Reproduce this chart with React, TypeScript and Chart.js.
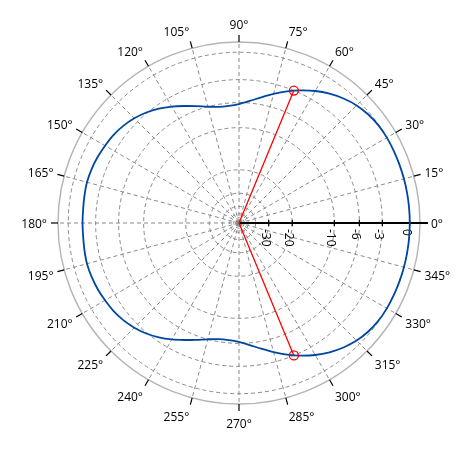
import { useEffect, useRef } from 'react';
import { Chart, registerables } from 'chart.js';

Chart.register(...registerables);

// Azimuth categories in degrees (0° at right, counter-clockwise), every 2.5°, listed clockwise
const ANGLE_STEP = 2.5;
const ANGLES: number[] = Array.from({ length: 144 }, (_, i) => (360 - i * ANGLE_STEP) % 360);
const LABEL_STEP = 15;

// Pattern azimuths (every 5°) and relative gain in dB
const PATTERN_ANGLES: number[] = Array.from({ length: 72 }, (_, i) => i * 5);
const PATTERN_DB: number[] = [
  0, 0, 0, 0, 0, 0, 0, -0.05, -0.2, -0.45, -0.85, -1.35, -1.95, -2.65, -3.4, -4.2, -5.0, -5.7,
  -6.2, -6.4, -6.35, -6.0, -5.45, -4.8, -4.1, -3.45, -2.9, -2.45, -2.1, -1.85, -1.7, -1.55, -1.45,
  -1.4, -1.45, -1.5, -1.5,
  -1.5, -1.45, -1.4, -1.45, -1.55, -1.7, -1.85, -2.1, -2.45, -2.9, -3.45, -4.1, -4.8, -5.45, -6.0,
  -6.35, -6.4, -6.2, -5.7, -5.0, -4.2, -3.4, -2.65, -1.95, -1.35, -0.85, -0.45, -0.2, -0.05, 0, 0,
  0, 0, 0, 0,
];

// Half-power (-3 dB) beamwidth markers
const MARKER_ANGLES: number[] = [67.5, 292.5];
const MARKER_DB: number[] = [-3, -3];
const BEAM_ORIGIN_ANGLES: number[] = [0, 180];

// Radial rings (dB) and labelled radial ticks
const RING_DB: number[] = [-100, -90, -80, -70, -60, -50, -40, -30, -20, -10, -6, -3, 0];
const LABELED_DB: number[] = [-30, -20, -10, -6, -3, 0];
const OUTER_DB = 1;

// ARRL log-periodic radial scale
const toR = (db: number) => Math.pow(0.89, -db / 2);
const RMAX = toR(OUTER_DB);
const RING_VALUES: number[] = [0, ...RING_DB.map(toR), RMAX];

const FONT = 'Open Sans';

const decor = {
  id: 'polarDecor',
  beforeDatasetsDraw(chart: any) {
    const s = chart.scales.r;
    const ctx = chart.ctx as CanvasRenderingContext2D;
    const outer = s.getDistanceFromCenterForValue(s.max);
    ctx.save();
    ctx.setLineDash([]);
    ctx.strokeStyle = '#000';
    ctx.fillStyle = '#000';
    ctx.lineWidth = 1.2;
    ctx.font = `12px "${FONT}"`;
    const H = 14.4;
    ANGLES.forEach((a, i) => {
      if (a % LABEL_STEP !== 0) return;
      const p1 = s.getPointPosition(i, outer);
      const p2 = s.getPointPosition(i, outer + 7);
      ctx.beginPath();
      ctx.moveTo(p1.x, p1.y);
      ctx.lineTo(p2.x, p2.y);
      ctx.stroke();
      const p = s.getPointPosition(i, outer + 11);
      const rad = (a * Math.PI) / 180;
      ctx.textAlign = a === 90 || a === 270 ? 'center' : a < 90 || a > 270 ? 'left' : 'right';
      ctx.textBaseline = 'middle';
      ctx.fillText(`${a}°`, p.x, p.y + 2 - (H / 2) * Math.sin(rad));
    });
    const end = s.getPointPosition(0, outer + 8);
    ctx.lineWidth = 2;
    ctx.beginPath();
    ctx.moveTo(s.xCenter, s.yCenter);
    ctx.lineTo(end.x, end.y);
    ctx.stroke();
    ctx.lineWidth = 1.2;
    LABELED_DB.forEach((db) => {
      const d = s.getDistanceFromCenterForValue(toR(db));
      const p = s.getPointPosition(0, d);
      ctx.beginPath();
      ctx.moveTo(p.x, p.y - 3);
      ctx.lineTo(p.x, p.y + 3);
      ctx.stroke();
      ctx.save();
      ctx.translate(p.x, p.y + 6);
      ctx.rotate(Math.PI / 2);
      ctx.textAlign = 'left';
      ctx.textBaseline = 'middle';
      ctx.fillText(String(db), 0, 3.5);
      ctx.restore();
    });
    ctx.restore();
  },
};

export default function App() {
  const ref = useRef<HTMLCanvasElement>(null);
  useEffect(() => {
    const patternData = ANGLES.map((a) => {
      const k = PATTERN_ANGLES.indexOf(a);
      return k >= 0 ? toR(PATTERN_DB[k]) : null;
    });
    const markerIdx: number[] = [];
    const beamData = ANGLES.map((a, i) => {
      const m = MARKER_ANGLES.indexOf(a);
      if (m >= 0) {
        markerIdx.push(i);
        return toR(MARKER_DB[m]);
      }
      if (BEAM_ORIGIN_ANGLES.includes(a)) return 0;
      return null;
    });
    const last = RING_VALUES.length - 1;
    const chart = new Chart(ref.current as HTMLCanvasElement, {
      type: 'radar',
      data: {
        labels: ANGLES,
        datasets: [
          {
            label: 'Beamwidth',
            data: beamData,
            borderColor: '#ff0000',
            borderWidth: 1.3,
            fill: false,
            spanGaps: true,
            tension: 0,
            pointRadius: (c: any) => (markerIdx.includes(c.dataIndex) ? 4.5 : 0),
            pointStyle: 'circle',
            pointBackgroundColor: 'rgba(0,0,0,0)',
            pointBorderColor: '#ff0000',
            pointBorderWidth: 1.3,
          } as any,
          {
            label: 'Pattern',
            data: patternData,
            borderColor: '#0047a0',
            borderWidth: 1.8,
            fill: false,
            spanGaps: true,
            tension: 0.3,
            pointRadius: 0,
          } as any,
        ],
      },
      options: {
        responsive: true,
        maintainAspectRatio: false,
        animation: false,
        events: [],
        layout: { padding: { top: 34, bottom: 38, left: 50, right: 42 } },
        plugins: { legend: { display: false }, tooltip: { enabled: false } },
        scales: {
          r: {
            min: 0,
            max: RMAX,
            startAngle: 90,
            afterBuildTicks: (s: any) => {
              s.ticks = RING_VALUES.map((v) => ({ value: v }));
            },
            ticks: { display: false },
            grid: {
              circular: true,
              color: (c: any) => (c.index === last ? '#b4b4b4' : '#8a8a8a'),
              lineWidth: (c: any) => (c.index === last ? 1.4 : 1),
            },
            border: { dash: (c: any) => (c.index === last ? [] : [4, 3]) },
            angleLines: {
              display: true,
              color: '#8a8a8a',
              lineWidth: (c: any) => (ANGLES[c.index] % LABEL_STEP === 0 ? 1 : 0),
              borderDash: [4, 3],
            },
            pointLabels: { display: false },
          } as any,
        },
      },
      plugins: [decor],
    });
    return () => chart.destroy();
  }, []);
  return (
    <div style={{ width: 454, height: 434, position: 'relative' }}>
      <canvas ref={ref} />
    </div>
  );
}
